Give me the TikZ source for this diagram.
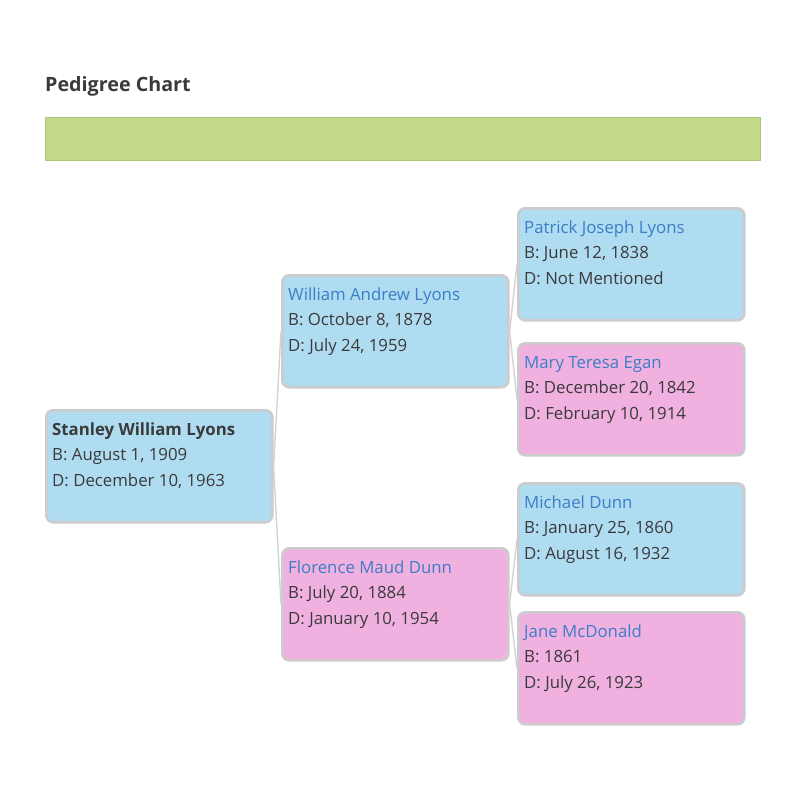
\documentclass[tikz,border=0pt]{standalone}
\usepackage{fontspec}
\setmainfont{Open Sans}
\definecolor{txt}{HTML}{3A3A3A}
\definecolor{namecol}{HTML}{3B7EC6}
\definecolor{bluefill}{HTML}{B0DCF2}
\definecolor{pinkfill}{HTML}{F0B1E1}
\definecolor{boxline}{HTML}{CCCCCC}
\definecolor{barfill}{HTML}{C4DA88}
\definecolor{barline}{HTML}{ADC778}
\definecolor{connline}{HTML}{D3D3D3}
\tikzset{
  pbox/.style={draw=boxline, line width=2.6pt, rounded corners=7pt, minimum width=226pt, minimum height=112pt, anchor=north west, inner sep=0pt},
  male/.style={pbox, fill=bluefill},
  female/.style={pbox, fill=pinkfill},
  ptext/.style={anchor=base west, inner sep=0pt, text=txt, font=\fontsize{16.8}{20}\selectfont},
  pname/.style={ptext, text=namecol},
  rootname/.style={ptext, font=\fontsize{16.8}{20}\selectfont\bfseries},
  conn/.style={draw=connline, line width=1.4pt},
}
\begin{document}
\begin{tikzpicture}[x=1pt,y=-1pt]
\useasboundingbox[fill=white] (0,0) rectangle (800,800);
\node[anchor=base west, inner sep=0pt, text=txt, font=\fontsize{19.7}{23}\selectfont\bfseries] (title) at (45,91) {Pedigree Chart};
\node[anchor=north west, inner sep=0pt, minimum width=715pt, minimum height=43pt, fill=barfill, draw=barline, line width=0.8pt] (banner) at (45,117) {};
% boxes
\node[male] (stanley) at (45,409) {};
\node[male] (william) at (281,274) {};
\node[female] (florence) at (281,547) {};
\node[male] (patrick) at (517,207) {};
\node[female] (mary) at (517,342) {};
\node[male] (michael) at (517,482) {};
\node[female] (jane) at (517,611) {};
% connectors
\draw[conn] (stanley.east) -- (william.west);
\draw[conn] (stanley.east) -- (florence.west);
\draw[conn] (william.east) -- (patrick.west);
\draw[conn] (william.east) -- (mary.west);
\draw[conn] (florence.east) -- (michael.west);
\draw[conn] (florence.east) -- (jane.west);
% texts
\node[rootname] (t1a) at ([shift={(7,26)}]stanley.north west) {Stanley William Lyons};
\node[ptext] (t1b) at ([shift={(7,51.5)}]stanley.north west) {B: August 1, 1909};
\node[ptext] (t1c) at ([shift={(7,77)}]stanley.north west) {D: December 10, 1963};
\node[pname] (t2a) at ([shift={(7,26)}]william.north west) {William Andrew Lyons};
\node[ptext] (t2b) at ([shift={(7,51.5)}]william.north west) {B: October 8, 1878};
\node[ptext] (t2c) at ([shift={(7,77)}]william.north west) {D: July 24, 1959};
\node[pname] (t3a) at ([shift={(7,26)}]florence.north west) {Florence Maud Dunn};
\node[ptext] (t3b) at ([shift={(7,51.5)}]florence.north west) {B: July 20, 1884};
\node[ptext] (t3c) at ([shift={(7,77)}]florence.north west) {D: January 10, 1954};
\node[pname] (t4a) at ([shift={(7,26)}]patrick.north west) {Patrick Joseph Lyons};
\node[ptext] (t4b) at ([shift={(7,51.5)}]patrick.north west) {B: June 12, 1838};
\node[ptext] (t4c) at ([shift={(7,77)}]patrick.north west) {D: Not Mentioned};
\node[pname] (t5a) at ([shift={(7,26)}]mary.north west) {Mary Teresa Egan};
\node[ptext] (t5b) at ([shift={(7,51.5)}]mary.north west) {B: December 20, 1842};
\node[ptext] (t5c) at ([shift={(7,77)}]mary.north west) {D: February 10, 1914};
\node[pname] (t6a) at ([shift={(7,26)}]michael.north west) {Michael Dunn};
\node[ptext] (t6b) at ([shift={(7,51.5)}]michael.north west) {B: January 25, 1860};
\node[ptext] (t6c) at ([shift={(7,77)}]michael.north west) {D: August 16, 1932};
\node[pname] (t7a) at ([shift={(7,26)}]jane.north west) {Jane McDonald};
\node[ptext] (t7b) at ([shift={(7,51.5)}]jane.north west) {B: 1861};
\node[ptext] (t7c) at ([shift={(7,77)}]jane.north west) {D: July 26, 1923};
\end{tikzpicture}
\end{document}
